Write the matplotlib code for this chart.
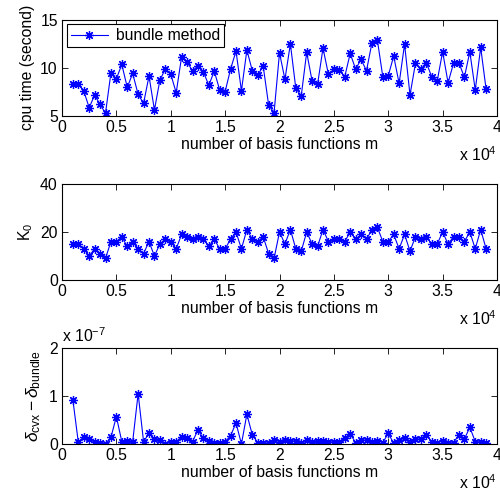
import numpy as np
import matplotlib
matplotlib.use('Agg')
import matplotlib.pyplot as plt
from matplotlib.ticker import FuncFormatter

plt.rcParams['font.family'] = ['Liberation Sans', 'DejaVu Sans']
plt.rcParams['mathtext.fontset'] = 'custom'
plt.rcParams['mathtext.rm'] = 'Liberation Sans'
plt.rcParams['mathtext.it'] = 'Liberation Sans:italic'
plt.rcParams['font.size'] = 11.3

# number of basis functions m : 1000, 1500, ..., 39000
m = np.arange(1000, 39001, 500)

cpu_time = [8.31, 8.3, 7.6, 5.86, 7.17, 6.2, 5.28, 9.48, 8.86, 10.34,
            7.97, 9.41, 7.24, 6.31, 9.14, 5.62, 8.72, 9.86, 9.34, 7.41,
            11.14, 10.59, 9.69, 10.17, 9.59, 8.17, 9.66, 7.69, 7.52, 9.86,
            11.72, 7.62, 11.83, 9.69, 9.24, 10.17, 6.14, 5.34, 11.55, 8.79,
            12.48, 7.86, 7.1, 11.59, 8.62, 8.28, 12.03, 9.31, 9.86, 9.76,
            9.07, 11.48, 9.86, 10.86, 9.69, 12.59, 12.86, 9.07, 9.17, 11.21,
            8.38, 12.45, 7.17, 10.45, 9.86, 10.52, 9.07, 8.62, 11.66, 8.45,
            10.45, 10.52, 9.0, 11.66, 7.69, 12.1, 7.76]

K0 = [15, 15, 13, 10, 13, 11, 9, 16, 16, 18,
      14, 16, 13, 11, 16, 10, 15, 17, 16, 13,
      19, 18, 17, 18, 17, 14, 17, 13, 13, 17,
      20, 13, 21, 17, 16, 18, 11, 9, 20, 15,
      21, 13, 12, 20, 15, 14, 21, 16, 17, 17,
      16, 20, 17, 19, 17, 21, 22, 16, 16, 19,
      13, 19, 12, 18, 17, 18, 15, 15, 20, 15,
      18, 18, 16, 20, 13, 21, 13]

# delta_cvx - delta_bundle, in units of 1e-7
delta = [0.92, 0.035, 0.15, 0.10, 0.05, 0.015, 0.0, 0.14, 0.57, 0.05,
         0.06, 0.05, 1.05, 0.05, 0.22, 0.10, 0.08, 0.0, 0.04, 0.05,
         0.15, 0.12, 0.05, 0.29, 0.12, 0.07, 0.03, 0.03, 0.05, 0.17,
         0.44, 0.0, 0.62, 0.19, 0.03, 0.03, 0.015, 0.09, 0.05, 0.08,
         0.06, 0.07, 0.03, 0.08, 0.04, 0.07, 0.06, 0.05, 0.04, 0.04,
         0.12, 0.21, 0.03, 0.08, 0.08, 0.04, 0.07, 0.03, 0.22, 0.015,
         0.08, 0.12, 0.04, 0.10, 0.11, 0.19, 0.04, 0.03, 0.07, 0.015,
         0.03, 0.19, 0.10, 0.35, 0.05, 0.04, 0.015]
delta = np.array(delta) * 1e-7

W, H = 500, 492
fig = plt.figure(figsize=(W / 100, H / 100), dpi=100)


def make_axes(top, bottom):
    ax = fig.add_axes([62 / W, 1 - bottom / H, 435 / W, (bottom - top) / H])
    ax.tick_params(direction='in', top=True, right=True, length=4, width=0.6, pad=3)
    for s in ax.spines.values():
        s.set_linewidth(0.8)
    ax.set_xlim(0, 40000)
    ax.set_xticks(np.arange(0, 40001, 5000))
    ax.xaxis.set_major_formatter(FuncFormatter(lambda v, p: '%g' % (v / 1e4)))
    ax.set_xlabel('number of basis functions m', labelpad=1)
    ax.text(1.0, -0.40, r'x 10$^{4}$', transform=ax.transAxes, ha='right', va='center')
    return ax


style = dict(color='#0000ff', marker=(8, 2, 0), markersize=6.5,
             markeredgewidth=0.9, linewidth=0.8)

# cpu time
ax1 = make_axes(19.5, 116)
ax1.plot(m, cpu_time, label='bundle method', **style)
ax1.set_ylim(5, 15)
ax1.set_yticks([5, 10, 15])
ax1.set_ylabel('cpu time (second)')
leg = ax1.legend(loc='upper left', fancybox=False, framealpha=1, edgecolor='black',
                 handlelength=2.4, borderaxespad=0.3, borderpad=0.25, handletextpad=0.5)
leg.get_frame().set_linewidth(0.8)

# K0
ax2 = make_axes(184, 280)
ax2.plot(m, K0, **style)
ax2.set_ylim(0, 40)
ax2.set_yticks([0, 20, 40])
ax2.set_ylabel(r'K$_0$')

# delta
ax3 = make_axes(348, 444)
ax3.plot(m, delta, **style)
ax3.set_ylim(0, 2e-7)
ax3.set_yticks([0, 1e-7, 2e-7])
ax3.yaxis.set_major_formatter(FuncFormatter(lambda v, p: '%g' % (v / 1e-7)))
ax3.set_ylabel(r'$\delta_{\mathrm{cvx}}-\delta_{\mathrm{bundle}}$', fontsize=12.5)
ax3.text(0.0, 1.03, r'x 10$^{-7}$', transform=ax3.transAxes, ha='left', va='bottom')

fig.savefig('out.png', dpi=100)
